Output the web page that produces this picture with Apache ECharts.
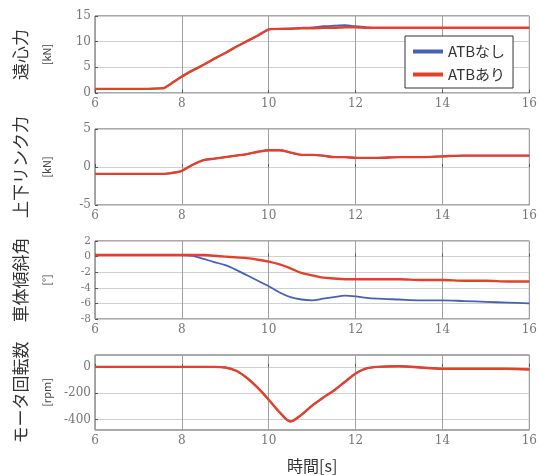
<!DOCTYPE html>
<html>
<head>
<meta charset="utf-8">
<script src="https://cdn.jsdelivr.net/npm/echarts@6/dist/echarts.min.js"></script>
<style>
  html, body { margin: 0; padding: 0; background: #fff; }
  #chart { width: 540px; height: 475px; }
</style>
</head>
<body>
<div id="chart"></div>
<script>
// time samples [s]
const time = [6, 7, 7.5, 7.6, 7.75, 8, 8.25, 8.5, 8.75, 9, 9.25, 9.5, 9.75, 10, 10.25, 10.5, 10.75,
  11, 11.25, 11.5, 11.75, 12, 12.25, 12.5, 13, 13.5, 14, 14.5, 15, 15.5, 16];

// centrifugal force [kN]
const forceOff = [0.8, 0.8, 0.9, 1.0, 1.8, 3.2, 4.4, 5.5, 6.7, 7.8, 9.0, 10.1, 11.2, 12.4, 12.5, 12.6, 12.7,
  12.8, 13.0, 13.1, 13.2, 13.0, 12.8, 12.7, 12.7, 12.7, 12.7, 12.7, 12.7, 12.7, 12.7];
const forceOn = [0.8, 0.8, 0.9, 1.0, 1.8, 3.2, 4.4, 5.5, 6.7, 7.8, 9.0, 10.1, 11.2, 12.4, 12.5, 12.5, 12.6,
  12.6, 12.7, 12.7, 12.8, 12.8, 12.7, 12.7, 12.7, 12.7, 12.7, 12.7, 12.7, 12.7, 12.7];

// vertical link force [kN]
const linkOff = [-0.9, -0.9, -0.9, -0.9, -0.8, -0.5, 0.3, 0.9, 1.1, 1.3, 1.5, 1.7, 2.0, 2.2, 2.2, 1.9, 1.6,
  1.6, 1.5, 1.3, 1.3, 1.2, 1.2, 1.2, 1.3, 1.3, 1.4, 1.5, 1.5, 1.5, 1.5];
const linkOn = linkOff.slice();

// body tilt angle [deg]
const tiltOff = [0.2, 0.2, 0.2, 0.2, 0.2, 0.2, 0.1, -0.3, -0.7, -1.1, -1.7, -2.4, -3.1, -3.8, -4.6, -5.2, -5.5,
  -5.6, -5.4, -5.2, -5.0, -5.1, -5.3, -5.4, -5.5, -5.6, -5.6, -5.7, -5.8, -5.9, -6.0];
const tiltOn = [0.2, 0.2, 0.2, 0.2, 0.2, 0.2, 0.2, 0.2, 0.1, 0.0, -0.1, -0.2, -0.4, -0.65, -1.0, -1.5, -2.1,
  -2.4, -2.7, -2.8, -2.9, -2.9, -2.9, -2.9, -2.9, -3.0, -3.0, -3.1, -3.1, -3.2, -3.2];

// motor speed [rpm]
const motorOff = [0, 0, 0, 0, 0, 0, 0, 0, 0, -5, -30, -85, -160, -250, -345, -415, -365,
  -295, -235, -180, -115, -50, -12, 0, 5, -5, -15, -15, -15, -15, -20];
const motorOn = motorOff.slice();

const yNames = ["遠心力", "上下リンク力", "車体傾斜角", "モータ回転数"];
const yUnits = ["[kN]", "[kN]", "[°]", "[rpm]"];
const yRanges = [[0, 15, 5], [-5, 5, 5], [-8, 2, 2], [-480, 90, null]];
const motorTicks = [0, -200, -400];

const BLUE = "#4661b8";
const RED = "#e5402a";
const pair = arr => time.map((t, i) => [t, arr[i]]);

const chart = echarts.init(document.getElementById("chart"));

const gridTops = [16, 129, 241, 355];
const gridHeights = [77, 76, 78, 75];

const grids = gridTops.map((top, i) => ({
  left: 95, width: 437, top: top, height: gridHeights[i],
  show: true, borderColor: "#555", borderWidth: 1, backgroundColor: "#fff"
}));

const serif = "DejaVu Serif";
const tickLabel = (size) => ({ fontFamily: serif, fontSize: size, color: "#777" });

const xAxes = grids.map((g, i) => ({
  type: "value", gridIndex: i, min: 6, max: 16, interval: 2,
  axisLine: { show: false },
  axisTick: { inside: true, length: 3, lineStyle: { color: "#555" } },
  axisLabel: Object.assign({ margin: 5 }, tickLabel(12)),
  splitLine: { show: true, lineStyle: { color: "#a0a0a0", width: 1 } },
  name: i === 3 ? "時間[s]" : "",
  nameLocation: "middle", nameGap: 28,
  nameTextStyle: { fontFamily: "Noto Sans CJK JP", fontSize: 16, color: "#333" }
}));

const yAxes = grids.map((g, i) => {
  const [mn, mx, iv] = yRanges[i];
  const ax = {
    type: "value", gridIndex: i, min: mn, max: mx,
    axisLine: { show: false },
    axisTick: { inside: true, length: 3, lineStyle: { color: "#555" } },
    axisLabel: Object.assign({ margin: 4 }, tickLabel(i === 2 ? 10.5 : 12)),
    splitLine: { show: true, lineStyle: { color: "#cfcfcf", width: 1 } },
    name: "{a|" + yNames[i] + "}\n{b|" + yUnits[i] + "}",
    nameLocation: "middle", nameRotate: 90, nameGap: 40,
    nameTextStyle: {
      rich: {
        a: { fontFamily: "Noto Sans CJK JP", fontSize: 17, color: "#333", lineHeight: 36 },
        b: { fontFamily: "Noto Sans CJK JP", fontSize: 11, color: "#444", lineHeight: 16 }
      }
    }
  };
  if (iv !== null) {
    ax.interval = iv;
  } else {
    ax.axisLabel.customValues = motorTicks;
    ax.axisTick.customValues = motorTicks;
  }
  return ax;
});

const pairs = [[forceOff, forceOn], [linkOff, linkOn], [tiltOff, tiltOn], [motorOff, motorOn]];
const series = [];
pairs.forEach((p, i) => {
  const sm = i === 0 ? 0.15 : 0.3;
  series.push({
    name: "ATBなし", type: "line", xAxisIndex: i, yAxisIndex: i,
    data: pair(p[0]), showSymbol: false, smooth: sm,
    lineStyle: { color: BLUE, width: 1.8 }, itemStyle: { color: BLUE }
  });
  series.push({
    name: "ATBあり", type: "line", xAxisIndex: i, yAxisIndex: i,
    data: pair(p[1]), showSymbol: false, smooth: sm,
    lineStyle: { color: RED, width: 2.4 }, itemStyle: { color: RED }
  });
});

chart.setOption({
  animation: false,
  backgroundColor: "#fff",
  grid: grids,
  xAxis: xAxes,
  yAxis: yAxes,
  legend: {
    data: ["ATBなし", "ATBあり"],
    orient: "vertical",
    left: 405, top: 36,
    icon: "rect", itemWidth: 30, itemHeight: 4, itemGap: 8,
    padding: [8, 8, 6, 8],
    borderColor: "#333", borderWidth: 1, backgroundColor: "#fff",
    textStyle: { fontFamily: "Noto Sans CJK JP", fontSize: 15, color: "#333" }
  },
  series: series
});
</script>
</body>
</html>
